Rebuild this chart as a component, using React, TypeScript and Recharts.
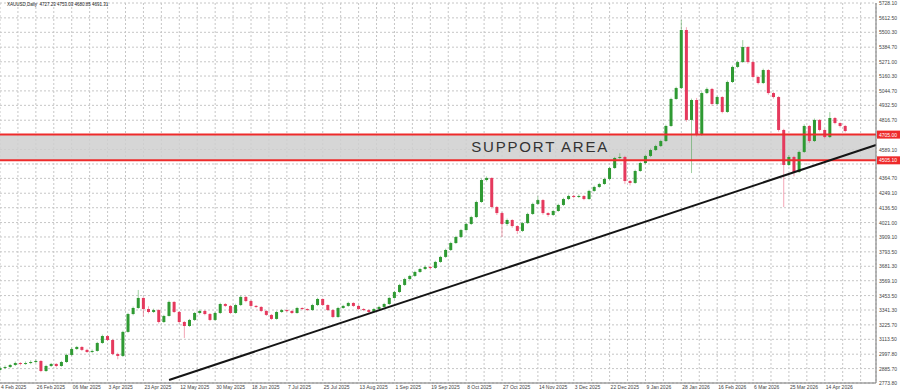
import {
  ComposedChart,
  Bar,
  XAxis,
  YAxis,
  CartesianGrid,
  ReferenceArea,
  ReferenceLine,
  ReferenceDot,
} from 'recharts'

// XAUUSD daily, one candle per two sessions: [open, high, low, close]
const candles: [number, number, number, number][] = [
  [2875, 2905, 2868, 2891], [2891, 2910, 2884, 2898], [2898, 2922, 2890, 2914], [2914, 2940, 2906, 2929],
  [2929, 2936, 2910, 2922], [2922, 2941, 2915, 2929], [2929, 2950, 2920, 2937], [2937, 2956, 2928, 2945],
  [2945, 2952, 2858, 2867], [2867, 2915, 2860, 2906], [2906, 2930, 2898, 2922], [2922, 2928, 2895, 2906],
  [2906, 2946, 2900, 2937], [2937, 3002, 2930, 2992], [2992, 3050, 2985, 3038], [3038, 3062, 3030, 3054],
  [3054, 3060, 3022, 3031], [3031, 3040, 3008, 3015], [3015, 3034, 3006, 3023], [3023, 3094, 3017, 3085],
  [3085, 3150, 3078, 3139], [3139, 3146, 3100, 3108], [3108, 3114, 2990, 2999], [2999, 3010, 2958, 2984],
  [2984, 3180, 2976, 3171], [3171, 3320, 3165, 3310], [3310, 3368, 3300, 3357], [3357, 3497, 3350, 3435],
  [3435, 3440, 3290, 3349], [3349, 3370, 3315, 3326], [3326, 3352, 3318, 3341], [3341, 3348, 3236, 3248],
  [3248, 3304, 3240, 3295], [3295, 3415, 3290, 3404], [3404, 3410, 3318, 3326], [3326, 3333, 3238, 3248],
  [3248, 3256, 3124, 3217], [3217, 3272, 3210, 3264], [3264, 3326, 3256, 3318], [3318, 3345, 3306, 3334],
  [3334, 3340, 3300, 3310], [3310, 3318, 3255, 3264], [3264, 3326, 3258, 3318], [3318, 3398, 3310, 3388],
  [3388, 3395, 3364, 3373], [3373, 3380, 3310, 3318], [3318, 3390, 3312, 3380], [3380, 3452, 3372, 3443],
  [3443, 3450, 3402, 3411], [3411, 3418, 3364, 3373], [3373, 3380, 3356, 3365], [3365, 3372, 3325, 3334],
  [3334, 3340, 3295, 3303], [3303, 3310, 3265, 3272], [3272, 3334, 3266, 3326], [3326, 3350, 3318, 3341],
  [3341, 3348, 3326, 3334], [3334, 3340, 3310, 3318], [3318, 3366, 3312, 3357], [3357, 3362, 3340, 3349],
  [3349, 3355, 3333, 3341], [3341, 3390, 3335, 3380], [3380, 3436, 3372, 3427], [3427, 3432, 3372, 3380],
  [3380, 3386, 3333, 3341], [3341, 3348, 3278, 3287], [3287, 3366, 3280, 3357], [3357, 3382, 3350, 3373],
  [3373, 3405, 3366, 3396], [3396, 3402, 3365, 3373], [3373, 3380, 3341, 3349], [3349, 3356, 3333, 3341],
  [3341, 3348, 3318, 3326], [3326, 3358, 3320, 3349], [3349, 3374, 3342, 3365], [3365, 3397, 3358, 3388],
  [3388, 3444, 3380, 3435], [3435, 3490, 3428, 3481], [3481, 3545, 3474, 3536], [3536, 3592, 3528, 3582],
  [3582, 3615, 3575, 3606], [3606, 3646, 3598, 3637], [3637, 3669, 3630, 3660], [3660, 3688, 3652, 3676],
  [3676, 3684, 3655, 3668], [3668, 3724, 3660, 3715], [3715, 3763, 3708, 3754], [3754, 3818, 3746, 3808],
  [3808, 3872, 3800, 3862], [3862, 3918, 3855, 3909], [3909, 3972, 3900, 3963], [3963, 4020, 3955, 4010],
  [4010, 4074, 4002, 4064], [4064, 4192, 4056, 4181], [4181, 4362, 4174, 4352], [4352, 4380, 4340, 4368],
  [4368, 4372, 4130, 4142], [4142, 4150, 4080, 4095], [4095, 4102, 3909, 4010], [4010, 4052, 3995, 4041],
  [4041, 4048, 3980, 3994], [3994, 4000, 3932, 3956], [3956, 4026, 3948, 4017], [4017, 4098, 4010, 4088],
  [4088, 4176, 4080, 4166], [4166, 4225, 4158, 4196], [4196, 4204, 4082, 4095], [4095, 4102, 4066, 4080],
  [4080, 4120, 4072, 4111], [4111, 4168, 4104, 4158], [4158, 4214, 4150, 4204], [4204, 4238, 4196, 4228],
  [4228, 4236, 4210, 4220], [4220, 4240, 4212, 4228], [4228, 4234, 4195, 4204], [4204, 4276, 4198, 4267],
  [4267, 4308, 4260, 4298], [4298, 4330, 4290, 4321], [4321, 4370, 4314, 4360], [4360, 4455, 4352, 4445],
  [4445, 4532, 4438, 4523], [4523, 4560, 4515, 4531], [4531, 4540, 4320, 4344], [4344, 4352, 4310, 4329],
  [4329, 4432, 4322, 4422], [4422, 4494, 4415, 4484], [4484, 4549, 4476, 4539], [4539, 4596, 4530, 4585],
  [4585, 4626, 4578, 4616], [4616, 4665, 4608, 4655], [4655, 4782, 4648, 4772], [4772, 4992, 4765, 4982],
  [4982, 5077, 4975, 5067], [5067, 5596, 5060, 5518], [5518, 5540, 4805, 4819], [4819, 4985, 4406, 4974],
  [4974, 4990, 4690, 4702], [4702, 5040, 4695, 5028], [5028, 5072, 5020, 5060], [5060, 5068, 4930, 4943],
  [4943, 5008, 4936, 4997], [4997, 5004, 4870, 4881], [4881, 5125, 4874, 5114], [5114, 5242, 5106, 5231],
  [5231, 5280, 5222, 5269], [5269, 5440, 5262, 5386], [5386, 5392, 5256, 5269], [5269, 5276, 5140, 5153],
  [5153, 5160, 5095, 5106], [5106, 5218, 5098, 5207], [5207, 5214, 5015, 5028], [5028, 5035, 4985, 4997],
  [4997, 5004, 4728, 4741], [4741, 4750, 4142, 4469], [4469, 4545, 4460, 4531], [4531, 4540, 4380, 4414],
  [4414, 4580, 4406, 4570], [4570, 4785, 4562, 4772], [4772, 4780, 4640, 4655], [4655, 4830, 4648, 4819],
  [4819, 4826, 4730, 4741], [4741, 4750, 4675, 4686], [4686, 4880, 4678, 4834], [4834, 4842, 4785, 4795],
  [4795, 4800, 4760, 4772], [4772, 4780, 4722, 4733],
]

// one date label every 7 candles
const dateLabels = [
  '4 Feb 2025', '26 Feb 2025', '06 Mar 2025', '3 Apr 2025', '23 Apr 2025', '12 May 2025',
  '30 May 2025', '18 Jun 2025', '7 Jul 2025', '25 Jul 2025', '13 Aug 2025', '1 Sep 2025',
  '19 Sep 2025', '8 Oct 2025', '27 Oct 2025', '14 Nov 2025', '3 Dec 2025', '22 Dec 2025',
  '9 Jan 2026', '28 Jan 2026', '16 Feb 2026', '6 Mar 2026', '25 Mar 2026', '14 Apr 2026',
]

const priceTicks = [
  5728.1, 5612.5, 5500.3, 5384.7, 5271.0, 5160.3, 5044.7, 4932.5, 4816.7, 4705.0, 4589.1, 4476.5,
  4364.7, 4249.1, 4136.5, 4021.0, 3909.1, 3793.5, 3681.3, 3569.1, 3453.5, 3341.3, 3225.7, 3113.5,
  2997.8, 2885.7, 2773.8,
]

const supportTop = 4705
const supportBottom = 4505
const supportTopLabel = '4705.00'
const supportBottomLabel = '4505.10'
const trendLine = [
  { i: 33, price: 2797 },
  { i: 171, price: 4624 },
]
const header = 'XAUUSD,Daily  4727.23 4753.03 4680.85 4691.31'

const UP = '#2f9a33'
const DOWN = '#e5395d'
const SUPPORT_RED = '#ee2b2b'
const AXIS_FONT = 'Liberation Sans, Arial, sans-serif'

const data = candles.map(([open, high, low, close], i) => ({ i, open, high, low, close }))

const STEP = 7
const xTicks: number[] = []
for (let k = 0; k <= dateLabels.length * 2; k++) xTicks.push((k * STEP) / 2)

function Candle(props: any) {
  const { x, y, width, height } = props
  const p = props.payload ?? props
  if (height == null || p.high == null) return null
  const span = p.high - p.low || 1
  const yOf = (v: number) => y + ((p.high - v) / span) * height
  const top = yOf(Math.max(p.open, p.close))
  const bottom = yOf(Math.min(p.open, p.close))
  const cx = x + width / 2
  const color = p.close >= p.open ? UP : DOWN
  return (
    <g>
      <line x1={cx} x2={cx} y1={y} y2={y + height} stroke={color} strokeOpacity={0.45} strokeWidth={1} />
      <rect x={x} y={top} width={width} height={Math.max(bottom - top, 1)} fill={color} />
    </g>
  )
}

const DateTick = ({ x, y, payload }: any) => {
  const v = payload.value
  if (v % STEP !== 0) return null
  const label = dateLabels[v / STEP]
  if (!label) return null
  return (
    <text x={x + 1} y={y + 6} fontSize={5} fontFamily={AXIS_FONT} fill="#444" textAnchor="start">
      {label}
    </text>
  )
}

// the red price tags cover the axis labels next to the support lines
const PriceTick = ({ x, y, payload }: any) => {
  const v = payload.value
  if (Math.abs(v - supportTop) < 40 || Math.abs(v - supportBottom) < 40) return null
  return (
    <text x={x + 3} y={y + 2} fontSize={5} fontFamily={AXIS_FONT} fill="#444" textAnchor="start">
      {v.toFixed(2)}
    </text>
  )
}

const priceTag = (text: string) => (props: any) => {
  const vb = props.viewBox
  if (!vb) return null
  const x = vb.x + vb.width + 1
  return (
    <g>
      <rect x={x} y={vb.y - 4} width={23} height={8} fill={SUPPORT_RED} />
      <text x={x + 2} y={vb.y + 2} fontSize={5} fontFamily={AXIS_FONT} fill="#fff">
        {text}
      </text>
    </g>
  )
}

const supportText = (props: any) => {
  const vb = props.viewBox
  if (!vb) return null
  return (
    <text
      x={vb.x}
      y={vb.y + 5}
      fontSize={15}
      letterSpacing={1.8}
      fontFamily="Liberation Sans, Arial, sans-serif"
      fill="#333"
      textAnchor="start"
    >
      SUPPORT AREA
    </text>
  )
}

export default function App() {
  return (
    <div style={{ position: 'absolute', left: 0, top: 0, width: 900, height: 391, background: '#fff' }}>
      <div
        style={{
          position: 'absolute',
          left: 7,
          top: 2,
          fontSize: 4.5,
          fontFamily: AXIS_FONT,
          color: '#222',
          whiteSpace: 'pre',
          zIndex: 2,
        }}
      >
        {header}
      </div>
      <ComposedChart width={900} height={391} data={data} margin={{ top: 3, right: 0, bottom: 0, left: 0 }}>
        <CartesianGrid stroke="#c6c6c6" strokeDasharray="2 2" />
        <XAxis
          type="number"
          dataKey="i"
          domain={[0, 171]}
          ticks={xTicks}
          interval={0}
          tick={<DateTick />}
          tickLine={false}
          tickSize={0}
          tickMargin={0}
          axisLine={{ stroke: '#777' }}
          height={8}
          allowDataOverflow
        />
        <YAxis
          orientation="right"
          type="number"
          domain={[2773.8, 5728.1]}
          ticks={priceTicks}
          interval={0}
          tick={<PriceTick />}
          tickLine={false}
          tickSize={0}
          tickMargin={0}
          axisLine={{ stroke: '#777' }}
          width={24}
          allowDataOverflow
        />
        <ReferenceArea y1={supportBottom} y2={supportTop} fill="#cfcfcf" fillOpacity={0.85} stroke="none" />
        <Bar
          dataKey={(d: any) => [d.low, d.high]}
          barSize={3}
          shape={<Candle />}
          isAnimationActive={false}
        />
        <ReferenceLine y={supportTop} stroke={SUPPORT_RED} strokeWidth={2} label={priceTag(supportTopLabel)} />
        <ReferenceLine y={supportBottom} stroke={SUPPORT_RED} strokeWidth={2} label={priceTag(supportBottomLabel)} />
        <ReferenceLine
          segment={trendLine.map((p) => ({ x: p.i, y: p.price }))}
          stroke="#151515"
          strokeWidth={2}
          ifOverflow="visible"
        />
        <ReferenceDot x={92} y={4605} r={0} fill="none" stroke="none" label={supportText} />
      </ComposedChart>
    </div>
  )
}
